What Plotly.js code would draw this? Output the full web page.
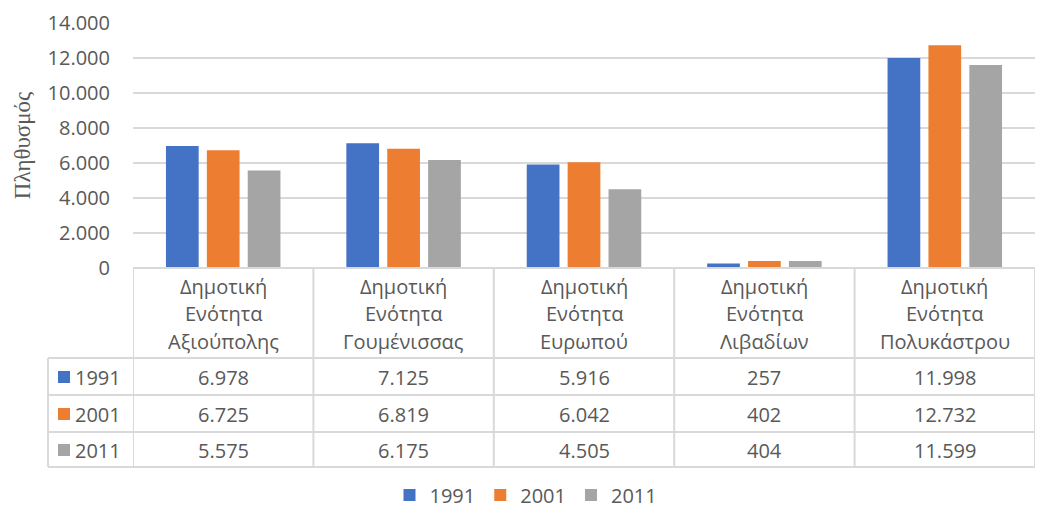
<!DOCTYPE html>
<html><head><meta charset="utf-8">
<script src="https://cdn.plot.ly/plotly-3.0.1.min.js"></script>
<style>html,body{margin:0;padding:0;background:#fff;overflow:hidden;width:1037px;height:509px}#chart{width:1037px;height:509px;overflow:hidden}</style>
</head><body><div id="chart"></div>
<script>
const categories = ["Δημοτική Ενότητα Αξιούπολης","Δημοτική Ενότητα Γουμένισσας","Δημοτική Ενότητα Ευρωπού","Δημοτική Ενότητα Λιβαδίων","Δημοτική Ενότητα Πολυκάστρου"];
const years = ["1991","2001","2011"];
const v1991 = [6978, 7125, 5916, 257, 11998];
const v2001 = [6725, 6819, 6042, 402, 12732];
const v2011 = [5575, 6175, 4505, 404, 11599];
const colors = ["#4472C4","#ED7D31","#A5A5A5"];
const series = [v1991, v2001, v2011];

const W = 1037, H = 509, ML = 133, MR = 2, MT = 23, MB = 241;
const PW = W - ML - MR, PH = H - MT - MB;
const px2x = p => (p - ML) / PW;
const py2y = p => (MT + PH - p) / PH;

const txtColor = "#595959";
const font = "Open Sans, Noto Sans, sans-serif";
const FS = 20;
const fmt = n => String(n).replace(/\B(?=(\d{3})+(?!\d))/g, ".");

const traces = series.map((vals, i) => ({
  type: "bar", name: years[i], x: categories, y: vals,
  marker: {color: colors[i]}, hoverinfo: "skip"
}));

const lineC = "#d9d9d9", lw = 2;
const shapes = [];
const annotations = [];
const rowYs = [268, 358, 395, 432, 467];
shapes.push({type:"line", xref:"x", yref:"paper", x0:-0.5, x1:4.5, y0:py2y(268), y1:py2y(268), line:{color:lineC,width:lw}});
for (let k = 1; k < rowYs.length; k++) {
  shapes.push({type:"line", xref:"paper", yref:"paper", x0:px2x(48), x1:1, y0:py2y(rowYs[k]), y1:py2y(rowYs[k]), line:{color:lineC,width:lw}});
}
for (let k = 0; k <= categories.length; k++) {
  shapes.push({type:"line", xref:"x", yref:"paper", x0:k-0.5, x1:k-0.5, y0:py2y(268), y1:py2y(467), line:{color:lineC,width:lw}});
}
shapes.push({type:"line", xref:"paper", yref:"paper", x0:px2x(48), x1:px2x(48), y0:py2y(358), y1:py2y(467), line:{color:lineC,width:lw}});

const headY = [286, 313, 341];
categories.forEach((c, i) => {
  c.split(" ").forEach((p, j) => {
    annotations.push({xref:"x", yref:"paper", x:i, y:py2y(headY[j]), text:p, showarrow:false,
      xanchor:"center", yanchor:"middle", font:{family:font, size:FS, color:txtColor}});
  });
});
const rowC = [377, 414, 450];
series.forEach((vals, r) => {
  vals.forEach((v, i) => {
    annotations.push({xref:"x", yref:"paper", x:i, y:py2y(rowC[r]), text:fmt(v), showarrow:false,
      xanchor:"center", yanchor:"middle", font:{family:font, size:FS, color:txtColor}});
  });
  shapes.push({type:"rect", xref:"paper", yref:"paper", x0:px2x(58), x1:px2x(70), y0:py2y(rowC[r]-6), y1:py2y(rowC[r]+6), fillcolor:colors[r], line:{width:0}});
  annotations.push({xref:"paper", yref:"paper", x:px2x(73), y:py2y(rowC[r]), text:years[r], showarrow:false,
    xanchor:"left", yanchor:"middle", font:{family:font, size:FS, color:txtColor}});
});

const layout = {
  width: W, height: H,
  margin: {l: ML, r: MR, t: MT, b: MB, pad: 0, autoexpand: false},
  paper_bgcolor: "#fff", plot_bgcolor: "#fff",
  separators: ",.",
  barmode: "group", bargap: 0.32, bargroupgap: 0.2,
  font: {family: font, color: txtColor, size: FS},
  xaxis: {showticklabels: false, showgrid: false, zeroline: false, showline: false, ticks: "", range: [-0.5, 4.5], fixedrange: true},
  yaxis: {range: [0, 14000], dtick: 2000, tickformat: ",d", showgrid: true, gridcolor: lineC, gridwidth: 1.5,
    zeroline: false, showline: false, ticks: "", ticklabelstandoff: 22,
    tickfont: {family: font, size: FS, color: txtColor},
    title: {text: "Πληθυσμός", font: {family: "Liberation Serif, DejaVu Serif, serif", size: 23, color: txtColor}, standoff: 10}},
  legend: {orientation: "h", xref: "container", yref: "container", x: 526 / W, xanchor: "center", y: (H - 495) / H, yanchor: "middle",
    font: {family: font, size: FS, color: txtColor}, itemwidth: 30, traceorder: "normal"},
  shapes, annotations, showlegend: true
};
Plotly.newPlot("chart", traces, layout, {staticPlot: true, displayModeBar: false});
</script></body></html>
